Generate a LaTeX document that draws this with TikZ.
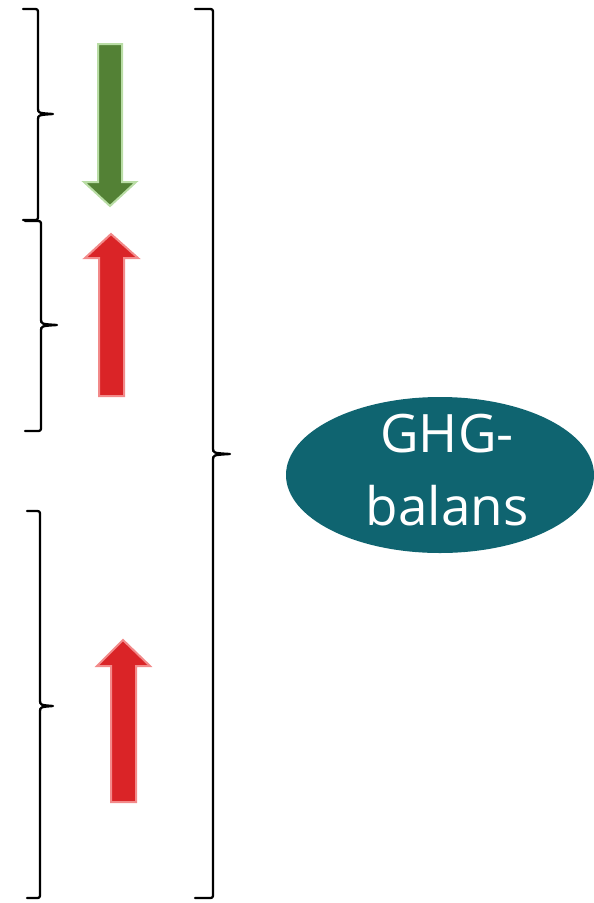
\documentclass[tikz,border=0pt]{standalone}
\usepackage{fontspec}
\setmainfont{Open Sans}
\usetikzlibrary{shapes.geometric}
\definecolor{leafgreen}{HTML}{538135}
\definecolor{leafrim}{HTML}{B9DDA5}
\definecolor{emitred}{HTML}{DA2427}
\definecolor{emitrim}{HTML}{F28A8A}
\definecolor{tealfill}{HTML}{0F6470}
\tikzset{
  bracestroke/.style={draw=black, line width=2.3pt, line cap=round, line join=round},
  greenarrow/.style={fill=leafgreen, draw=leafrim, line width=2pt, line join=miter},
  redarrow/.style={fill=emitred, draw=emitrim, line width=2pt, line join=miter},
  balance/.style={ellipse, fill=tealfill, minimum width=308pt, minimum height=156pt, inner sep=0pt},
  balancetext/.style={text=white, anchor=base, inner sep=0pt, font=\fontsize{53}{60}\selectfont}
}
% brace: top end x, spine x, tip x, top y, tip y, bottom y
\newcommand{\groupbrace}[6]{%
  \draw[bracestroke] (#1,#4) -- (#2-5,#4) .. controls (#2,#4) .. (#2,#4+5)
    -- (#2,#5-6) .. controls (#2,#5-1) .. (#3,#5)
    (#3,#5) .. controls (#2,#5+1) .. (#2,#5+6)
    -- (#2,#6-5) .. controls (#2,#6) .. (#2-5,#6) -- (#1,#6);}
\begin{document}
\begin{tikzpicture}[x=1pt,y=-1pt]
\useasboundingbox (0,0) rectangle (594,903);
% grouping braces
\groupbrace{23}{38}{53}{9}{114}{220}
\groupbrace{25}{41}{57}{221}{325}{431}
\groupbrace{27}{40}{53}{511}{706}{898}
\groupbrace{195}{213}{230}{9}{454}{898}
% flow arrows
\path[greenarrow] (98,44) -- (122,44) -- (122,182) -- (136,182) -- (110,206) -- (84,182) -- (98,182) -- cycle;
\path[redarrow] (99,396) -- (124,396) -- (124,258) -- (138,258) -- (111,234) -- (85,258) -- (99,258) -- cycle;
\path[redarrow] (111,802) -- (136,802) -- (136,666) -- (150,666) -- (123,640) -- (97,666) -- (111,666) -- cycle;
% balance node
\node[balance] (ghg) at (440,475) {};
\node[balancetext] (ghg1) at (447,452) {GHG-};
\node[balancetext] (ghg2) at (447,525) {balans};
\end{tikzpicture}
\end{document}
